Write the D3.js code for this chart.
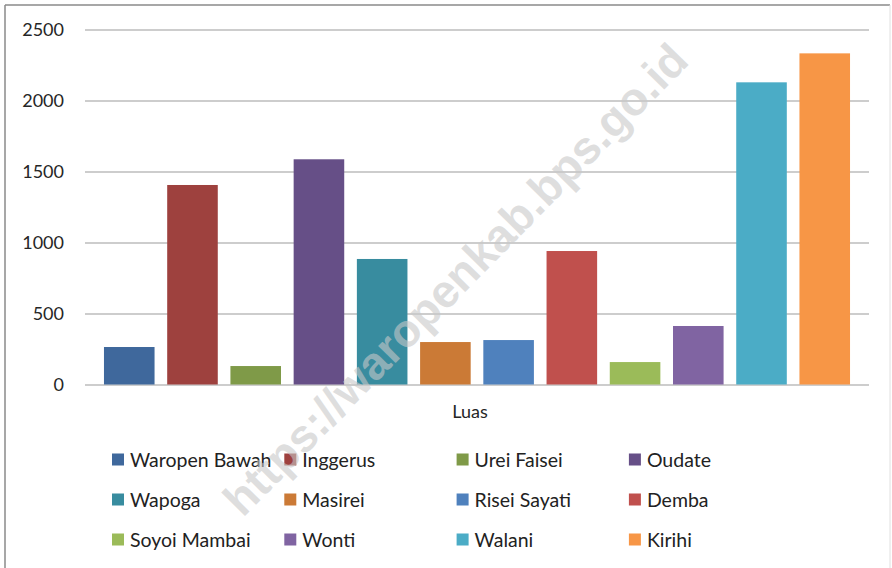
<!DOCTYPE html>
<html>
<head>
<meta charset="utf-8">
<script src="https://cdn.jsdelivr.net/npm/d3@7"></script>
<style>
  body { margin: 0; background: #fff; }
  svg { display: block; font-family: Lato, "Open Sans", sans-serif; }
</style>
</head>
<body>
<div id="chart"></div>
<script>
// data
const districts = ["Waropen Bawah", "Inggerus", "Urei Faisei", "Oudate", "Wapoga", "Masirei",
                   "Risei Sayati", "Demba", "Soyoi Mambai", "Wonti", "Walani", "Kirihi"];
const luas = [264, 1405, 130, 1586, 884, 299, 313, 940, 158, 412, 2128, 2332];
const colors = ["#3F689C", "#9E413E", "#7F9A48", "#664F87", "#388C9F", "#CB7A36",
                "#4F81BD", "#C0504D", "#9BBB59", "#8064A2", "#4BACC6", "#F79646"];
const yTicks = [0, 500, 1000, 1500, 2000, 2500];
const axisTitle = "Luas";

const W = 892, H = 568;
const plot = { left: 85, right: 869, top: 29.5, bottom: 384.5 };

const svg = d3.select("#chart").append("svg")
  .attr("width", W)
  .attr("height", H);

// frame
svg.append("line").attr("x1", 5).attr("x2", 890).attr("y1", 5).attr("y2", 5)
  .attr("stroke", "#8a8a8a").attr("stroke-width", 1.5);
svg.append("line").attr("x1", 5).attr("x2", 5).attr("y1", 5).attr("y2", H)
  .attr("stroke", "#8a8a8a").attr("stroke-width", 1.5);
svg.append("line").attr("x1", 890).attr("x2", 890).attr("y1", 5).attr("y2", H)
  .attr("stroke", "#e0e0e0").attr("stroke-width", 1);

const x = d3.scaleBand()
  .domain(districts)
  .range([plot.left, plot.right])
  .paddingInner(0.2)
  .paddingOuter(0.3);

const y = d3.scaleLinear()
  .domain([0, 2500])
  .range([plot.bottom, plot.top]);

// gridlines + labels
const yAxis = svg.append("g")
  .attr("transform", `translate(${plot.left},0)`)
  .call(d3.axisLeft(y).tickValues(yTicks).tickFormat(d3.format("d"))
    .tickSize(-(plot.right - plot.left)).tickPadding(21));
yAxis.select(".domain").remove();
yAxis.selectAll(".tick line").attr("stroke", "#bdbdbd").attr("stroke-width", 1.5);
yAxis.selectAll(".tick text")
  .attr("font-size", "18px")
  .attr("fill", "#262626")
  .attr("font-family", "Lato, 'Open Sans', sans-serif");

// bars
svg.selectAll(".bar")
  .data(districts)
  .enter()
  .append("rect")
  .attr("class", "bar")
  .attr("x", d => x(d))
  .attr("y", (d, i) => y(luas[i]))
  .attr("width", x.bandwidth())
  .attr("height", (d, i) => y(0) - y(luas[i]))
  .attr("fill", (d, i) => colors[i]);

// axis title
svg.append("text")
  .attr("x", 470)
  .attr("y", 418)
  .attr("text-anchor", "middle")
  .attr("font-size", "18px")
  .attr("fill", "#262626")
  .text(axisTitle);

// legend (4 columns, 3 rows)
const legend = svg.append("g");
const item = legend.selectAll(".item")
  .data(districts)
  .enter()
  .append("g")
  .attr("class", "item")
  .attr("transform", (d, i) => `translate(${112 + (i % 4) * 172.3},${459.5 + Math.floor(i / 4) * 40})`);
item.append("rect")
  .attr("x", 0).attr("y", -6)
  .attr("width", 12).attr("height", 12)
  .attr("fill", (d, i) => colors[i]);
item.append("text")
  .attr("x", 18)
  .attr("y", 7)
  .attr("font-size", "19.5px")
  .attr("fill", "#222")
  .text(d => d);

// watermark
svg.append("text")
  .attr("transform", "translate(458,282) rotate(-45.5)")
  .attr("text-anchor", "middle")
  .attr("dominant-baseline", "middle")
  .attr("font-family", "'Liberation Sans', Arial, sans-serif")
  .attr("font-weight", "bold")
  .attr("font-size", "46px")
  .attr("fill", "rgba(200,200,200,0.6)")
  .text("https://waropenkab.bps.go.id");
</script>
</body>
</html>
